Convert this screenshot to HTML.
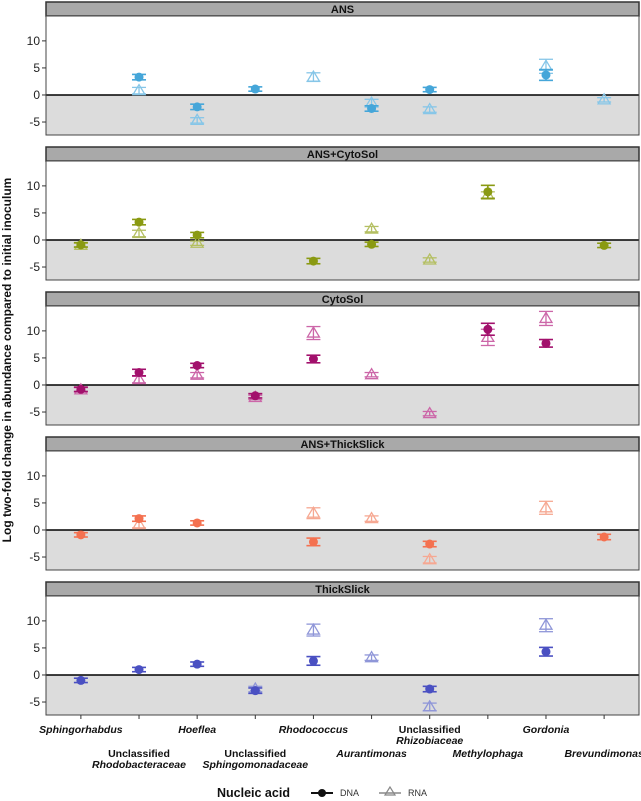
<!DOCTYPE html>
<html><head><meta charset="utf-8"><style>
body{margin:0;background:#fff;font-family:"Liberation Sans",Arial,sans-serif}
svg{display:block}
</style></head><body>
<svg id="chart" width="641" height="801" xmlns="http://www.w3.org/2000/svg"></svg>
<script>
const categories=["Sphingorhabdus","Unclassified|Rhodobacteraceae","Hoeflea","Unclassified|Sphingomonadaceae","Rhodococcus","Aurantimonas","Unclassified|Rhizobiaceae","Methylophaga","Gordonia","Brevundimonas"];
const facets=["ANS","ANS+CytoSol","CytoSol","ANS+ThickSlick","ThickSlick"];
const dnaColors=["#45a6d9","#8a9a12","#a2106c","#f47150","#4a50c2"];
const rnaColors=["#86c6e8","#b4bf62","#cc66a8","#f6a892","#8f96d8"];
const yTicks=[10,5,0,-5];
const dnaVals=[
 [null,3.3,-2.2,1.1,null,-2.5,1.0,null,3.7,null],
 [-0.9,3.3,0.9,null,-3.9,-0.8,null,8.9,null,-1.0],
 [-0.8,2.3,3.6,-2.0,4.8,null,null,10.3,7.7,null],
 [-0.9,2.1,1.3,null,-2.2,null,-2.6,null,null,-1.3],
 [-1.0,1.0,2.0,-2.9,2.6,null,-2.6,null,4.3,null]];
const rnaVals=[
 [null,0.8,-4.7,null,3.3,-1.5,-2.7,null,5.3,-0.9],
 [-1.0,1.2,-0.6,null,null,2.0,-3.7,8.3,null,null],
 [-0.9,1.0,1.8,-2.3,9.6,1.9,-5.3,8.8,12.3,null],
 [null,1.0,null,null,3.1,2.1,-5.5,null,4.1,null],
 [null,null,null,-2.6,8.3,3.2,-5.9,null,9.2,null]];
const dnaErr=[
 [0,0.5,0.5,0.4,0,0.5,0.4,0,1.0,0],
 [0.4,0.5,0.5,0,0.5,0.4,0,1.2,0,0.4],
 [0.4,0.6,0.4,0.4,0.7,0,0,1.1,0.7,0],
 [0.4,0.5,0.4,0,0.7,0,0.5,0,0,0.5],
 [0.4,0.4,0.4,0.5,0.8,0,0.5,0,0.8,0]];
const rnaErr=[
 [0,0.6,0.5,0,0.8,0.7,0.5,0,1.3,0.4],
 [0.4,0.6,0.4,0,0,0.5,0.4,0.6,0,0],
 [0.4,0.6,0.5,0.4,1.2,0.4,0.4,1.5,1.3,0],
 [0,0.6,0,0,1.0,0.5,0.6,0,1.2,0],
 [0,0,0,0.5,1.1,0.5,0.7,0,1.2,0]];
const NS="http://www.w3.org/2000/svg";
const svg=document.getElementById('chart');
function el(t,a,p){const e=document.createElementNS(NS,t);for(const k in a)e.setAttribute(k,a[k]);(p||svg).appendChild(e);return e;}
const L=46,R=639,step=(R-L)/10.2;
const x=i=>L+step*(0.6+i);
const ymin=-7.4,ymax=14.6,PH=119;
function yOf(f){const top=16+145*f;return v=>top+(ymax-v)/(ymax-ymin)*PH;}
facets.forEach((name,f)=>{
 const top=16+145*f, y=yOf(f);
 const g=el('g',{});
 
 
 const s=el('rect',{x:L,y:top-14,width:R-L,height:14,fill:'#a9a9a9',stroke:'#333','stroke-width':1.5},g);
 
 const st=el('text',{x:(L+R)/2,y:top-3,'text-anchor':'middle','font-size':11,'font-weight':'bold',fill:'#111'},g);st.textContent=name;
 
 el('rect',{x:L,y:top,width:R-L,height:PH,fill:'#fff'},g);
 const sh=el('rect',{x:L,y:y(0),width:R-L,height:top+PH-y(0),fill:'#dcdcdc'},g);
 
 const zl=el('line',{x1:L,x2:R,y1:y(0),y2:y(0),stroke:'#000','stroke-width':1.5},g);
 
 el('rect',{x:L,y:top,width:R-L,height:PH,fill:'none',stroke:'#444','stroke-width':1},g);
 yTicks.forEach(t=>{
  el('line',{x1:L-4,x2:L,y1:y(t),y2:y(t),stroke:'#333'},g);
  const tl=el('text',{x:L-6,y:y(t)+4,'text-anchor':'end','font-size':12,fill:'#222'},g);tl.textContent=t;
  
 });
 categories.forEach((c,i)=>{
  const r=rnaVals[f][i];
  if(r!==null){const cx=x(i),e=rnaErr[f][i],col=rnaColors[f];
   const m=el('g',{stroke:col,fill:'none','stroke-width':1.3},g);
   
   el('line',{x1:cx,x2:cx,y1:y(r+e),y2:y(r-e)},m);
   el('line',{x1:cx-7,x2:cx+7,y1:y(r+e),y2:y(r+e)},m);
   el('line',{x1:cx-7,x2:cx+7,y1:y(r-e),y2:y(r-e)},m);
   const yy=y(r);el('polygon',{points:`${cx},${yy-6} ${cx-6},${yy+4} ${cx+6},${yy+4}`},m);}
  const d=dnaVals[f][i];
  if(d!==null){const cx=x(i),e=dnaErr[f][i],col=dnaColors[f];
   const m=el('g',{stroke:col,'stroke-width':1.6},g);
   
   el('line',{x1:cx,x2:cx,y1:y(d+e),y2:y(d-e)},m);
   el('line',{x1:cx-7,x2:cx+7,y1:y(d+e),y2:y(d+e)},m);
   el('line',{x1:cx-7,x2:cx+7,y1:y(d-e),y2:y(d-e)},m);
   el('circle',{cx:cx,cy:y(d),r:4.5,fill:col,stroke:'none'},m);}
 });
});
const axTop=16+145*4+PH;
categories.forEach((c,i)=>{
 el('line',{x1:x(i),x2:x(i),y1:axTop,y2:axTop+4,stroke:'#333'});
 const parts=c.split('|');const low=i%2===1;const by=low?757:733;
 const t=el('text',{x:x(i),y:by,'text-anchor':'middle','font-size':10.5,fill:'#111','font-weight':'bold'});
 
 if(parts.length===1){t.setAttribute('font-style','italic');t.textContent=parts[0];}
 else{const a=el('tspan',{x:x(i),dy:0},t);a.textContent=parts[0];
  const b=el('tspan',{x:x(i),dy:11,'font-style':'italic'},t);b.textContent=parts[1];}
});
const yt=el('text',{x:0,y:0,transform:'translate(11,360) rotate(-90)','text-anchor':'middle','font-size':12,'font-weight':'bold',fill:'#111'});
yt.textContent='Log two-fold change in abundance compared to initial inoculum';

const lg=el('g',{});
const LY=793;
const lt=el('text',{x:217,y:LY+4,'font-size':12.5,'font-weight':'bold',fill:'#111'},lg);lt.textContent='Nucleic acid';
const l1=el('g',{},lg);
el('line',{x1:311,x2:333,y1:LY,y2:LY,stroke:'#111','stroke-width':2},l1);
el('circle',{cx:322,cy:LY,r:4,fill:'#111'},l1);
const d1=el('text',{x:340,y:LY+3,'font-size':9,fill:'#333'},l1);d1.textContent='DNA';
const l2=el('g',{},lg);
el('line',{x1:379,x2:401,y1:LY,y2:LY,stroke:'#888','stroke-width':1.5},l2);
el('polygon',{points:`390,${LY-6} 385,${LY+2} 395,${LY+2}`,fill:'none',stroke:'#888','stroke-width':1.2},l2);
const d2=el('text',{x:408,y:LY+3,'font-size':9,fill:'#333'},l2);d2.textContent='RNA';
</script>
</body></html>
